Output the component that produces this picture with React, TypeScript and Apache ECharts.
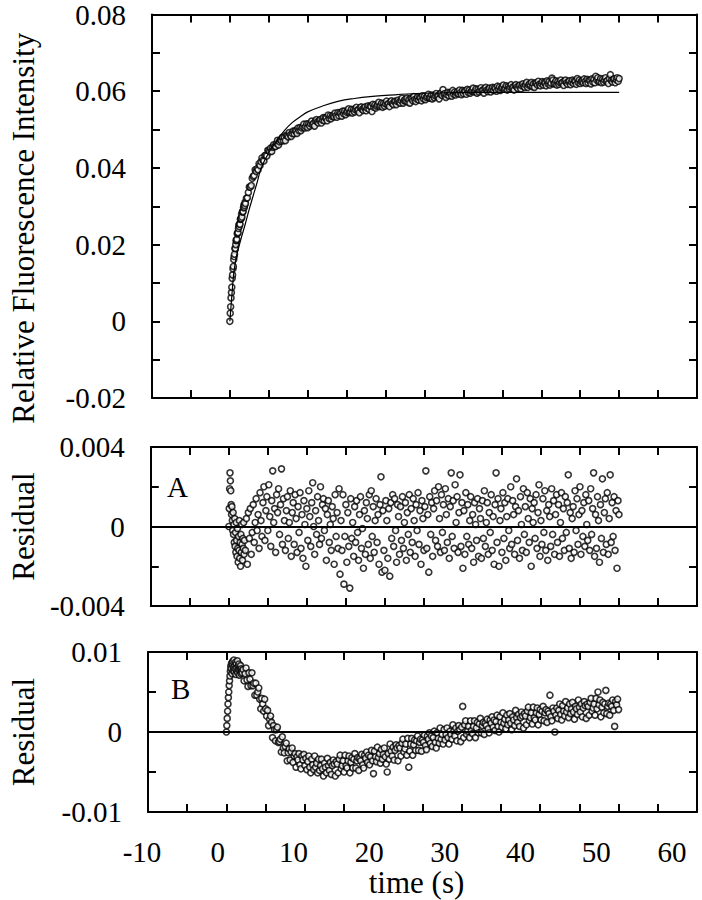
import React, { useEffect, useRef } from "react";
import * as echarts from "echarts";

// ---------- data ----------
// sampling times (s)
const TIMES = [
  0, 0.05, 0.1, 0.15, 0.2, 0.25, 0.3, 0.35, 0.4, 0.45, 0.5, 0.55, 0.6, 0.65, 0.7, 0.75, 0.8, 0.85, 0.9, 0.95,
  1, 1.05, 1.1, 1.15, 1.2, 1.25, 1.3, 1.35, 1.4, 1.45, 1.5, 1.55, 1.6, 1.65, 1.7, 1.75, 1.8, 1.85, 1.9, 1.95, 2,
  2.125, 2.25, 2.375, 2.5, 2.625, 2.75, 2.875, 3,
  3.125, 3.25, 3.375, 3.5, 3.625, 3.75, 3.875, 4,
  4.125, 4.25, 4.375, 4.5, 4.625, 4.75, 4.875, 5,
  5.125, 5.25, 5.375, 5.5, 5.625, 5.75, 5.875, 6,
  6.125, 6.25, 6.375, 6.5, 6.625, 6.75, 6.875, 7,
  7.125, 7.25, 7.375, 7.5, 7.625, 7.75, 7.875, 8,
  8.125, 8.25, 8.375, 8.5, 8.625, 8.75, 8.875, 9,
  9.125, 9.25, 9.375, 9.5, 9.625, 9.75, 9.875, 10,
  10.125, 10.25, 10.375, 10.5, 10.625, 10.75, 10.875, 11,
  11.125, 11.25, 11.375, 11.5, 11.625, 11.75, 11.875, 12,
  12.125, 12.25, 12.375, 12.5, 12.625, 12.75, 12.875, 13,
  13.125, 13.25, 13.375, 13.5, 13.625, 13.75, 13.875, 14,
  14.125, 14.25, 14.375, 14.5, 14.625, 14.75, 14.875, 15,
  15.125, 15.25, 15.375, 15.5, 15.625, 15.75, 15.875, 16,
  16.125, 16.25, 16.375, 16.5, 16.625, 16.75, 16.875, 17,
  17.125, 17.25, 17.375, 17.5, 17.625, 17.75, 17.875, 18,
  18.125, 18.25, 18.375, 18.5, 18.625, 18.75, 18.875, 19,
  19.125, 19.25, 19.375, 19.5, 19.625, 19.75, 19.875, 20,
  20.125, 20.25, 20.375, 20.5, 20.625, 20.75, 20.875, 21,
  21.125, 21.25, 21.375, 21.5, 21.625, 21.75, 21.875, 22,
  22.125, 22.25, 22.375, 22.5, 22.625, 22.75, 22.875, 23,
  23.125, 23.25, 23.375, 23.5, 23.625, 23.75, 23.875, 24,
  24.125, 24.25, 24.375, 24.5, 24.625, 24.75, 24.875, 25,
  25.125, 25.25, 25.375, 25.5, 25.625, 25.75, 25.875, 26,
  26.125, 26.25, 26.375, 26.5, 26.625, 26.75, 26.875, 27,
  27.125, 27.25, 27.375, 27.5, 27.625, 27.75, 27.875, 28,
  28.125, 28.25, 28.375, 28.5, 28.625, 28.75, 28.875, 29,
  29.125, 29.25, 29.375, 29.5, 29.625, 29.75, 29.875, 30,
  30.125, 30.25, 30.375, 30.5, 30.625, 30.75, 30.875, 31,
  31.125, 31.25, 31.375, 31.5, 31.625, 31.75, 31.875, 32,
  32.125, 32.25, 32.375, 32.5, 32.625, 32.75, 32.875, 33,
  33.125, 33.25, 33.375, 33.5, 33.625, 33.75, 33.875, 34,
  34.125, 34.25, 34.375, 34.5, 34.625, 34.75, 34.875, 35,
  35.125, 35.25, 35.375, 35.5, 35.625, 35.75, 35.875, 36,
  36.125, 36.25, 36.375, 36.5, 36.625, 36.75, 36.875, 37,
  37.125, 37.25, 37.375, 37.5, 37.625, 37.75, 37.875, 38,
  38.125, 38.25, 38.375, 38.5, 38.625, 38.75, 38.875, 39,
  39.125, 39.25, 39.375, 39.5, 39.625, 39.75, 39.875, 40,
  40.125, 40.25, 40.375, 40.5, 40.625, 40.75, 40.875, 41,
  41.125, 41.25, 41.375, 41.5, 41.625, 41.75, 41.875, 42,
  42.125, 42.25, 42.375, 42.5, 42.625, 42.75, 42.875, 43,
  43.125, 43.25, 43.375, 43.5, 43.625, 43.75, 43.875, 44,
  44.125, 44.25, 44.375, 44.5, 44.625, 44.75, 44.875, 45,
  45.125, 45.25, 45.375, 45.5, 45.625, 45.75, 45.875, 46,
  46.125, 46.25, 46.375, 46.5, 46.625, 46.75, 46.875, 47,
  47.125, 47.25, 47.375, 47.5, 47.625, 47.75, 47.875, 48,
  48.125, 48.25, 48.375, 48.5, 48.625, 48.75, 48.875, 49,
  49.125, 49.25, 49.375, 49.5, 49.625, 49.75, 49.875, 50,
];

// relative fluorescence intensity (top panel, open circles)
const FLUORESCENCE = [
  0.0, 0.0021, 0.0038, 0.0061, 0.0075, 0.0089, 0.0112, 0.0121, 0.0137, 0.0143, 0.0161, 0.0169, 0.0175, 0.019, 0.019,
  0.02, 0.0211, 0.0211, 0.0214, 0.0228, 0.0231, 0.0231, 0.0242, 0.0251, 0.0247, 0.0254, 0.0253, 0.0266, 0.0267,
  0.0268, 0.0279, 0.0272, 0.0285, 0.0286, 0.0286, 0.0296, 0.0303, 0.0297, 0.0302, 0.031, 0.0307,
  0.0321, 0.0322, 0.0336, 0.035, 0.035, 0.0354, 0.0373, 0.0378,
  0.038, 0.0395, 0.0391, 0.0398, 0.0395, 0.0411, 0.0406, 0.0416,
  0.0426, 0.042, 0.0418, 0.0432, 0.0433, 0.0431, 0.0446, 0.0445,
  0.0442, 0.0452, 0.0443, 0.0454, 0.046, 0.0456, 0.0456, 0.0464,
  0.0472, 0.046, 0.0468, 0.0473, 0.047, 0.048, 0.0471, 0.0479,
  0.0471, 0.0485, 0.0484, 0.0481, 0.0492, 0.0486, 0.0482, 0.049,
  0.0496, 0.0489, 0.0497, 0.0496, 0.049, 0.0504, 0.0497, 0.0505,
  0.0497, 0.0504, 0.0507, 0.0514, 0.0504, 0.0508, 0.0515, 0.0505,
  0.0515, 0.0509, 0.0515, 0.0522, 0.0513, 0.0516, 0.0509, 0.0523,
  0.0526, 0.052, 0.0517, 0.0524, 0.0526, 0.0517, 0.0525, 0.0531,
  0.0523, 0.0531, 0.053, 0.0523, 0.0538, 0.0529, 0.0536, 0.0528,
  0.0534, 0.0537, 0.0533, 0.0543, 0.0536, 0.0532, 0.0544, 0.0536,
  0.0544, 0.0542, 0.0535, 0.0548, 0.0541, 0.0548, 0.0539, 0.0545,
  0.0548, 0.0554, 0.0544, 0.0546, 0.0553, 0.0543, 0.0552, 0.0546,
  0.0552, 0.0558, 0.055, 0.0552, 0.0544, 0.0557, 0.0559, 0.0553,
  0.055, 0.0557, 0.0559, 0.0549, 0.0556, 0.0562, 0.0553, 0.0561,
  0.056, 0.0547, 0.0566, 0.0558, 0.0564, 0.0556, 0.0561, 0.0564,
  0.0571, 0.056, 0.0563, 0.0569, 0.0558, 0.0568, 0.0561, 0.0567,
  0.0574, 0.0565, 0.0568, 0.056, 0.0572, 0.0575, 0.0568, 0.0565,
  0.0573, 0.0574, 0.0565, 0.0573, 0.0577, 0.0572, 0.0569, 0.0576,
  0.0582, 0.0569, 0.0575, 0.0578, 0.0574, 0.0582, 0.0571, 0.0578,
  0.0569, 0.0582, 0.058, 0.0575, 0.0586, 0.0578, 0.0573, 0.058,
  0.0585, 0.0577, 0.0584, 0.0582, 0.0575, 0.0588, 0.058, 0.0587,
  0.0578, 0.0584, 0.0586, 0.0592, 0.0582, 0.0584, 0.059, 0.058,
  0.0589, 0.0583, 0.0588, 0.0594, 0.0586, 0.0588, 0.058, 0.0593,
  0.0595, 0.0589, 0.0604, 0.0592, 0.0594, 0.0584, 0.0591, 0.0597,
  0.0588, 0.0596, 0.0594, 0.0587, 0.0602, 0.0592, 0.0598, 0.059,
  0.0595, 0.0598, 0.0593, 0.0603, 0.0596, 0.0591, 0.0602, 0.0594,
  0.0601, 0.0599, 0.0592, 0.0605, 0.0597, 0.0603, 0.0595, 0.06,
  0.0602, 0.0608, 0.0598, 0.06, 0.0606, 0.0595, 0.0605, 0.0598,
  0.0603, 0.0609, 0.0601, 0.0603, 0.0595, 0.0607, 0.061, 0.0603,
  0.0599, 0.0606, 0.0608, 0.0598, 0.0605, 0.061, 0.0602, 0.0609,
  0.0607, 0.06, 0.0613, 0.0605, 0.0611, 0.0602, 0.0608, 0.061,
  0.0616, 0.0605, 0.0608, 0.0614, 0.0603, 0.0612, 0.0606, 0.0611,
  0.0617, 0.0608, 0.0611, 0.0603, 0.0615, 0.0617, 0.0611, 0.0607,
  0.0614, 0.0616, 0.0606, 0.0614, 0.0619, 0.0613, 0.061, 0.0617,
  0.0623, 0.061, 0.0616, 0.0619, 0.0615, 0.0623, 0.0612, 0.0619,
  0.061, 0.0622, 0.0621, 0.0616, 0.0626, 0.0618, 0.0614, 0.062,
  0.0625, 0.0616, 0.0623, 0.0621, 0.0614, 0.0627, 0.0619, 0.0625,
  0.0616, 0.0621, 0.0634, 0.0629, 0.0619, 0.0621, 0.0627, 0.0616,
  0.0625, 0.0618, 0.0623, 0.0629, 0.0621, 0.0623, 0.0615, 0.0627,
  0.0629, 0.0622, 0.0618, 0.0625, 0.0627, 0.0617, 0.0624, 0.0629,
  0.062, 0.0627, 0.0625, 0.0618, 0.0633, 0.0623, 0.0629, 0.062,
  0.0625, 0.0627, 0.0622, 0.0632, 0.0625, 0.062, 0.0631, 0.0622,
  0.0629, 0.0627, 0.0619, 0.0632, 0.0624, 0.0631, 0.0622, 0.0639,
  0.0629, 0.0635, 0.0624, 0.0626, 0.0633, 0.0622, 0.0631, 0.0624,
  0.0629, 0.0635, 0.0626, 0.0628, 0.062, 0.0633, 0.0643, 0.0628,
  0.0624, 0.0631, 0.0632, 0.0622, 0.063, 0.0635, 0.0626, 0.0633,
];

// single-exponential fit drawn as a line in the top panel
const FIT_TIMES = [0, 0.25, 0.5, 0.75, 1, 1.5, 2, 2.5, 3, 3.5, 4, 5, 6, 7, 8, 9, 10, 12, 14, 16, 18, 20, 24, 28, 35, 50];
const FIT_VALUES = [
  0, 0.0065, 0.0125, 0.0158, 0.0182, 0.022, 0.0255, 0.0293, 0.0328, 0.0362, 0.0398, 0.044, 0.047, 0.0497, 0.0518,
  0.0533, 0.0546, 0.0562, 0.0574, 0.0581, 0.0586, 0.0589, 0.0594, 0.0596, 0.0597, 0.0597,
];

// residuals of fit A (middle panel)
const RESIDUAL_A = [
  0.0, 0.0009, 0.0019, 0.0027, 0.0023, 0.0018, 0.0011, 0.0006, 0.001, 0.0003, -0.0002, 0.0007, -0.0004, 0.0001,
  -0.0008, 0.0004, -0.001, -0.0003, -0.0013, 0.0002, -0.0007, -0.0015, -0.0001, -0.0011, -0.0018, -0.0005, -0.0012,
  0.0003, -0.0016, -0.0008, -0.002, -0.0004, -0.0013, 0.0001, -0.0009, -0.0017, -0.0006, -0.0011, 0.0002, -0.0014,
  -0.0007,
  -0.0012, 0.0004, -0.0019, 0.0007, -0.0006, 0.0009, -0.0014, -0.0003,
  0.0011, -0.0008, 0.0002, 0.0014, -0.0002, 0.0006, -0.0011, 0.0017,
  0.0003, -0.0005, 0.0012, 0.002, -0.0007, 0.0008, 0.0015, -0.0002,
  0.0021, 0.0005, -0.001, 0.0013, 0.0028, 0.0002, 0.0009, -0.0013,
  0.0016, 0.0007, 0.0019, -0.0004, 0.0011, 0.0029, -0.0009, 0.0014,
  0.0003, -0.0012, 0.0008, 0.0015, -0.0006, 0.0002, 0.0018, -0.0015,
  0.0007, 0.0012, -0.0009, 0.0016, 0.0004, -0.0013, 0.001, -0.0003,
  0.0017, -0.0011, 0.0006, -0.0016, 0.0013, 0.0001, -0.002, 0.0009,
  -0.0007, 0.0018, 0.0005, -0.001, 0.0012, 0.0022, 0.0, -0.0014,
  0.0008, -0.0004, 0.0015, 0.0003, -0.0009, 0.002, -0.0006, 0.0011,
  0.0014, -0.0002, 0.0009, -0.0017, 0.0006, 0.0013, -0.0008, 0.0001,
  -0.0012, 0.001, 0.0004, -0.0019, 0.0016, -0.0005, 0.0007, -0.0011,
  0.0019, -0.0024, 0.0003, -0.0012, 0.0016, -0.0029, -0.0005, 0.0011,
  -0.0018, 0.0007, -0.001, -0.0031, 0.0014, -0.0006, 0.0002, -0.0015,
  0.001, -0.0008, 0.0013, -0.0003, -0.0017, 0.0006, 0.0015, -0.0011,
  -0.0001, -0.0021, 0.0008, -0.0014, 0.0012, 0.0004, -0.0009, 0.0016,
  -0.0016, 0.0018, -0.0005, 0.001, -0.0013, 0.0003, 0.0014, -0.0008,
  0.0006, -0.0019, 0.0011, 0.0025, -0.0023, 0.0008, -0.0012, -0.0022,
  0.0013, 0.0003, -0.0016, 0.0009, -0.0025, 0.0012, -0.0006, 0.0016,
  -0.001, 0.0014, -0.0002, -0.0018, 0.0011, 0.0005, -0.0014, 0.001,
  -0.0007, 0.0015, -0.0011, 0.0002, 0.0012, -0.0017, 0.0007, -0.0004,
  0.0016, -0.0013, 0.0009, -0.0008, 0.0014, 0.0003, -0.0015, 0.0011,
  -0.0002, 0.0017, -0.0009, 0.0008, -0.0019, 0.0013, 0.0004, -0.0012,
  0.001, 0.0028, -0.0011, 0.0006, -0.0023, 0.0015, -0.0004, 0.0012,
  -0.0015, 0.0009, 0.0018, -0.0007, 0.0013, -0.001, 0.002, 0.0004,
  -0.0013, 0.0016, -0.0003, 0.0011, -0.0012, 0.0019, 0.0006, -0.0008,
  0.0014, -0.0016, 0.001, 0.0027, -0.0005, 0.0013, -0.0011, 0.0021,
  0.0002, 0.0015, -0.0013, 0.0007, 0.0026, -0.001, 0.0012, -0.0021,
  0.0008, -0.0014, 0.0017, -0.0005, 0.0011, -0.0009, 0.0003, 0.0015,
  -0.0011, 0.0006, -0.0018, 0.0012, 0.0001, -0.0007, 0.0014, -0.0015,
  0.0009, 0.0004, -0.0016, 0.0013, -0.0006, 0.0018, -0.001, 0.0002,
  0.0012, -0.0014, 0.0007, -0.0003, 0.0016, -0.0012, 0.0005, -0.0019,
  0.0011, 0.0027, -0.0008, 0.0014, -0.002, 0.0003, 0.0009, -0.0013,
  0.0017, -0.0006, 0.0012, -0.0017, 0.0005, 0.0014, -0.0002, -0.0011,
  0.002, -0.0009, 0.0013, 0.0006, -0.0014, 0.001, 0.0024, -0.0007,
  0.0008, -0.0016, 0.0015, 0.0001, -0.0012, 0.0019, -0.0004, 0.001,
  -0.0013, 0.0017, 0.0004, -0.0008, 0.0014, -0.002, 0.0009, 0.0002,
  0.0012, -0.0006, 0.0016, -0.0011, 0.0007, 0.0021, -0.0015, 0.0003,
  -0.0009, 0.0014, -0.0003, 0.0018, -0.0012, 0.0008, -0.0017, 0.0011,
  0.0005, -0.001, 0.0019, -0.0004, 0.0013, -0.0014, 0.0006, 0.0016,
  -0.0008, 0.0011, -0.0015, 0.0002, 0.0017, -0.0006, 0.0009, -0.0012,
  0.0015, -0.0003, 0.0012, 0.0026, -0.0011, 0.0007, -0.0016, 0.0004,
  0.001, -0.0013, 0.0018, -0.0002, 0.0014, -0.0009, 0.0006, 0.002,
  -0.0014, 0.0008, -0.0005, 0.0012, -0.001, 0.0016, 0.0001, -0.0007,
  0.0013, -0.0012, 0.0019, -0.0004, 0.0009, 0.0027, -0.0015, 0.0006,
  -0.0011, 0.0015, 0.0003, -0.0018, 0.0011, -0.0006, 0.0024, -0.0013,
  0.0007, 0.0014, -0.0009, 0.0017, -0.0014, 0.0004, 0.0026, -0.0008,
  0.0012, -0.0005, 0.0015, -0.0012, 0.0008, -0.0021, 0.0013, 0.0006,
];

// residuals of fit B (bottom panel)
const RESIDUAL_B = [
  0.0, 0.0008, 0.0017, 0.0026, 0.0035, 0.0043, 0.005, 0.0058, 0.0064, 0.007,
  0.0076, 0.0082, 0.0079, 0.0086, 0.0073, 0.0084, 0.0088, 0.0077, 0.0081, 0.009, 0.0075, 0.0083, 0.0079, 0.0087,
  0.0072, 0.0085, 0.008, 0.0076, 0.0089, 0.0074, 0.0082, 0.0078, 0.0085, 0.0071, 0.008, 0.0077, 0.0083, 0.0073,
  0.0079, 0.0076, 0.0074,
  0.0078, 0.0064, 0.0073, 0.008, 0.0065, 0.0057, 0.0074, 0.0066,
  0.0058, 0.0074, 0.0058, 0.0061, 0.0046, 0.0061, 0.0046, 0.005,
  0.0055, 0.0041, 0.0029, 0.0042, 0.0035, 0.0026, 0.0041, 0.0029,
  0.002, 0.0027, 0.0008, 0.0016, 0.002, 0.0012, -0.0007, 0.0008,
  0.0003, -0.0011, 0.0003, 0.0006, -0.0013, -0.0012, -0.0009, -0.0025,
  -0.0006, -0.002, -0.0026, -0.0018, -0.0014, -0.0036, -0.0026, -0.0021,
  -0.0035, -0.0025, -0.002, -0.0038, -0.003, -0.0027, -0.0044, -0.0031,
  -0.0035, -0.0027, -0.0041, -0.0046, -0.003, -0.0035, -0.0028, -0.0042,
  -0.0033, -0.0047, -0.0037, -0.003, -0.0044, -0.0051, -0.0034, -0.0041,
  -0.0047, -0.003, -0.0044, -0.0039, -0.0051, -0.0034, -0.0048, -0.0042,
  -0.0034, -0.0046, -0.0055, -0.0039, -0.0044, -0.0051, -0.0033, -0.0042,
  -0.0048, -0.0038, -0.0053, -0.0042, -0.0035, -0.004, -0.0055, -0.0037,
  -0.004, -0.0051, -0.0034, -0.0029, -0.0046, -0.0042, -0.0036, -0.005,
  -0.0029, -0.0042, -0.0045, -0.0036, -0.003, -0.0051, -0.0038, -0.0032,
  -0.0045, -0.0034, -0.0027, -0.0045, -0.0036, -0.0032, -0.0048, -0.0033,
  -0.0036, -0.0028, -0.0041, -0.0045, -0.0029, -0.0033, -0.0025, -0.0038,
  -0.0029, -0.0041, -0.0031, -0.0023, -0.0036, -0.0052, -0.0024, -0.0031,
  -0.0037, -0.0019, -0.0032, -0.0027, -0.0039, -0.0022, -0.0034, -0.0028,
  -0.002, -0.0031, -0.004, -0.005, -0.0027, -0.0034, -0.0015, -0.0024,
  -0.003, -0.0019, -0.0035, -0.0023, -0.0016, -0.002, -0.0036, -0.0017,
  -0.002, -0.003, -0.0014, -0.0009, -0.0025, -0.0021, -0.0015, -0.0029,
  -0.0008, -0.0044, -0.0024, -0.0015, -0.0008, -0.0029, -0.0016, -0.001,
  -0.0023, -0.0011, -0.0005, -0.0023, -0.0013, -0.0009, -0.0024, -0.001,
  -0.0013, -0.0004, -0.0017, -0.0022, -0.0005, -0.0009, -0.0001, -0.0014,
  -0.0005, -0.0018, -0.0007, 0.0001, -0.0013, -0.002, -0.0001, -0.0008,
  -0.0014, 0.0005, -0.0009, -0.0003, -0.0015, 0.0003, -0.001, -0.0003,
  0.0005, -0.0007, -0.0015, 0.0001, -0.0003, -0.0009, 0.0009, 0.0001,
  -0.0005, 0.0005, -0.0011, 0.0001, 0.0008, 0.0003, -0.0012, 0.0006,
  0.0032, -0.0007, 0.0009, 0.0014, -0.0003, 0.0001, 0.0007, -0.0007,
  0.0014, 0.0002, -0.0002, 0.0007, 0.0014, -0.0007, 0.0005, 0.0012,
  -0.0001, 0.001, 0.0017, -0.0001, 0.0008, 0.0012, -0.0003, 0.0011,
  0.0008, 0.0016, 0.0004, -0.0001, 0.0015, 0.0011, 0.0019, 0.0006,
  0.0015, 0.0002, 0.0013, 0.0021, 0.0007, 0.0, 0.0019, 0.0012,
  0.0006, 0.0024, 0.0011, 0.0016, 0.0004, 0.0021, 0.0009, 0.0015,
  0.0023, 0.0011, 0.0003, 0.0019, 0.0015, 0.0008, 0.0027, 0.0018,
  0.0012, 0.0022, 0.0007, 0.0018, 0.0025, 0.002, 0.0005, 0.0023,
  0.002, 0.0009, 0.0026, 0.0031, 0.0014, 0.0018, 0.0024, 0.001,
  0.0031, 0.0018, 0.0015, 0.0024, 0.003, 0.0009, 0.0022, 0.0028,
  0.0015, 0.0026, 0.0032, 0.0014, 0.0024, 0.0028, 0.0012, 0.0026,
  0.0023, 0.0046, 0.0019, 0.0014, 0.003, 0.0026, 0.0, 0.0021,
  0.003, 0.0017, 0.0027, 0.0035, 0.0022, 0.0015, 0.0033, 0.0026,
  0.002, 0.0038, 0.0025, 0.003, 0.0018, 0.0035, 0.0023, 0.0029,
  0.0037, 0.0025, 0.0016, 0.0032, 0.0029, 0.0022, 0.004, 0.0031,
  0.0025, 0.0035, 0.0019, 0.003, 0.0038, 0.0033, 0.0017, 0.0035,
  0.0032, 0.0021, 0.0037, 0.0042, 0.0026, 0.003, 0.0035, 0.0021,
  0.0042, 0.0029, 0.005, 0.0034, 0.004, 0.0019, 0.0031, 0.0037,
  0.0024, 0.0035, 0.0052, 0.0023, 0.0032, 0.0036, 0.0021, 0.0035,
  0.0032, 0.004, 0.0027, 0.0007, 0.0038, 0.0034, 0.0041, 0.0028,
];

// tick labels
const X_TICK_VALUES = [-10, 0, 10, 20, 30, 40, 50, 60];
const X_TICK_LABELS = ["-10", "0", "10", "20", "30", "40", "50", "60"];
const TOP_Y_VALUES = [-0.02, 0, 0.02, 0.04, 0.06, 0.08];
const TOP_Y_LABELS = ["-0.02", "0", "0.02", "0.04", "0.06", "0.08"];
const A_Y_VALUES = [-0.004, 0, 0.004];
const A_Y_LABELS = ["-0.004", "0", "0.004"];
const B_Y_VALUES = [-0.01, 0, 0.01];
const B_Y_LABELS = ["-0.01", "0", "0.01"];

const FONT = "'Liberation Serif', 'Times New Roman', serif";

function labelFormatter(values: number[], labels: string[]) {
  return (v: number) => {
    const i = values.findIndex((x) => Math.abs(x - v) < 1e-9);
    return i >= 0 ? labels[i] : "";
  };
}

const frameLine = { show: true, onZero: false, lineStyle: { color: "#000", width: 2 } };
const frameTick = { show: true, inside: true, length: 8, lineStyle: { color: "#000", width: 2 } };

function xFrame(gridIndex: number, position: "top" | "bottom", extra: any = {}) {
  return {
    type: "value",
    gridIndex,
    position,
    min: -10,
    max: 60,
    interval: 5,
    axisLine: frameLine,
    axisTick: frameTick,
    axisLabel: { show: false },
    splitLine: { show: false },
    ...extra,
  };
}

function yFrame(
  gridIndex: number,
  position: "left" | "right",
  min: number,
  max: number,
  interval: number,
  extra: any = {}
) {
  return {
    type: "value",
    gridIndex,
    position,
    min,
    max,
    interval,
    axisLine: frameLine,
    axisTick: frameTick,
    axisLabel: { show: false },
    splitLine: { show: false },
    ...extra,
  };
}

const tickLabel = (values: number[], labels: string[]) => ({
  show: true,
  fontFamily: FONT,
  fontSize: 29,
  color: "#000",
  margin: 26,
  showMinLabel: true,
  showMaxLabel: true,
  formatter: labelFormatter(values, labels),
});

const axisTitle = (extra: any = {}) => ({
  fontFamily: FONT,
  fontSize: 31,
  color: "#000",
  ...extra,
});

const openCircle = {
  type: "scatter",
  symbol: "circle",
  symbolSize: 6,
  itemStyle: { color: "#fff", borderColor: "#000", borderWidth: 1.6 },
  emphasis: { disabled: true },
  silent: true,
};

const zeroLine = {
  silent: true,
  symbol: "none",
  label: { show: false },
  lineStyle: { color: "#000", width: 2, type: "solid" },
  data: [{ yAxis: 0 }],
};

export default function App() {
  const ref = useRef<HTMLDivElement>(null);

  useEffect(() => {
    if (!ref.current) return;
    const chart = echarts.init(ref.current, null, { renderer: "svg" });

    const option: any = {
      animation: false,
      backgroundColor: "#fff",
      grid: [
        { left: 145, right: 5, top: 13, height: 385 },
        { left: 145, right: 5, top: 447, height: 159 },
        { left: 145, right: 5, top: 652, height: 160 },
        { left: 142, right: 30, top: 652, height: 160 },
      ],
      xAxis: [
        xFrame(0, "bottom"),
        xFrame(0, "top"),
        xFrame(1, "bottom"),
        xFrame(1, "top"),
        xFrame(2, "bottom", {
          name: "time (s)",
          nameLocation: "middle",
          nameGap: 55,
          nameTextStyle: axisTitle({ padding: [0, 12, 0, 0] }),
        }),
        xFrame(2, "top"),
        {
          type: "value",
          gridIndex: 3,
          position: "bottom",
          min: -10,
          max: 60,
          interval: 10,
          axisLine: { show: false },
          axisTick: { show: false },
          splitLine: { show: false },
          axisLabel: { ...tickLabel(X_TICK_VALUES, X_TICK_LABELS), margin: 25 },
        },
      ],
      yAxis: [
        yFrame(0, "left", -0.02, 0.08, 0.01, {
          axisLabel: tickLabel(TOP_Y_VALUES, TOP_Y_LABELS),
          name: "Relative Fluorescence Intensity",
          nameLocation: "middle",
          nameRotate: 90,
          nameGap: 113,
          nameTextStyle: axisTitle({ padding: [0, 44, 0, 0] }),
        }),
        yFrame(0, "right", -0.02, 0.08, 0.01),
        yFrame(1, "left", -0.004, 0.004, 0.002, {
          axisLabel: tickLabel(A_Y_VALUES, A_Y_LABELS),
          name: "Residual",
          nameLocation: "middle",
          nameRotate: 90,
          nameGap: 111,
          nameTextStyle: axisTitle(),
        }),
        yFrame(1, "right", -0.004, 0.004, 0.002),
        yFrame(2, "left", -0.01, 0.01, 0.005, {
          axisLabel: tickLabel(B_Y_VALUES, B_Y_LABELS),
          name: "Residual",
          nameLocation: "middle",
          nameRotate: 90,
          nameGap: 109,
          nameTextStyle: axisTitle(),
        }),
        yFrame(2, "right", -0.01, 0.01, 0.005),
        { type: "value", gridIndex: 3, show: false, min: -1, max: 1 },
      ],
      graphic: [
        {
          type: "text",
          left: 167,
          top: 472,
          style: { text: "A", fontFamily: FONT, fontSize: 29, fill: "#000" },
        },
        {
          type: "text",
          left: 171,
          top: 674,
          style: { text: "B", fontFamily: FONT, fontSize: 29, fill: "#000" },
        },
      ],
      series: [
        {
          ...openCircle,
          name: "Fluorescence",
          xAxisIndex: 0,
          yAxisIndex: 0,
          z: 2,
          data: TIMES.map((t, i) => [t, FLUORESCENCE[i]]),
        },
        {
          type: "line",
          name: "Fit",
          xAxisIndex: 0,
          yAxisIndex: 0,
          z: 3,
          smooth: 0.4,
          symbol: "none",
          silent: true,
          lineStyle: { color: "#000", width: 1.2 },
          data: FIT_TIMES.map((t, i) => [t, FIT_VALUES[i]]),
        },
        {
          ...openCircle,
          name: "Residual A",
          xAxisIndex: 2,
          yAxisIndex: 2,
          data: TIMES.map((t, i) => [t, RESIDUAL_A[i]]),
          markLine: zeroLine,
        },
        {
          ...openCircle,
          name: "Residual B",
          xAxisIndex: 4,
          yAxisIndex: 4,
          data: TIMES.map((t, i) => [t, RESIDUAL_B[i]]),
          markLine: zeroLine,
        },
      ],
    };

    chart.setOption(option);
    return () => chart.dispose();
  }, []);

  return (
    <div
      ref={ref}
      style={{ position: "absolute", left: 0, top: 0, width: 702, height: 900, background: "#fff" }}
    />
  );
}
